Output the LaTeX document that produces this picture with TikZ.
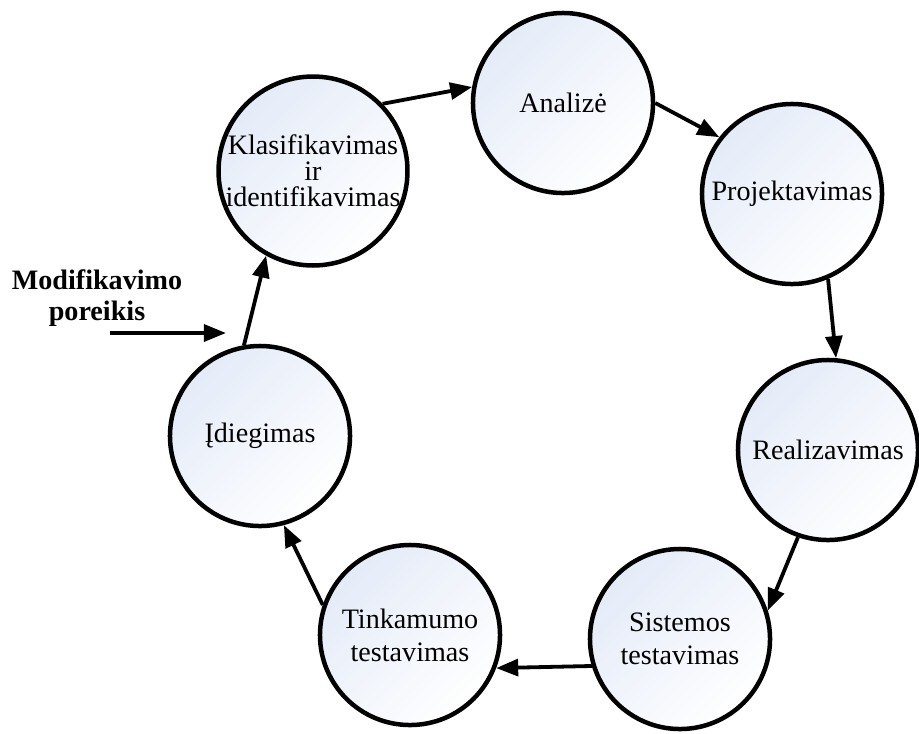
\documentclass[tikz,border=0pt]{standalone}
\usepackage{fontspec}
\setmainfont{Liberation Serif}
\usetikzlibrary{arrows.meta}
\definecolor{stagefill}{RGB}{228,235,248}

\begin{document}
\begin{tikzpicture}[x=0.025cm,y=-0.025cm,
    stage/.style={circle,draw,line width=3.2pt,minimum size=4.5cm,inner sep=0pt,
      top color=stagefill,bottom color=white,shading angle=45,align=center,
      font=\fontsize{20}{23.5}\selectfont},
    flow/.style={line width=2.7pt,-{Triangle[length=0.55cm,width=0.42cm]}}]
    \useasboundingbox (0,0) rectangle (919,733);
    % stages of the cycle
    \node[stage,font=\fontsize{20}{18.5}\selectfont] (klas) at (313,171) {Klasifikavimas\\ir\\identifikavimas};
    \node[stage] (anal) at (563,103) {Analizė};
    \node[stage] (proj) at (792,194) {Projektavimas};
    \node[stage] (real) at (828,450) {Realizavimas};
    \node[stage] (sist) at (680,639) {Sistemos\\testavimas};
    \node[stage] (tink) at (410,635) {Tinkamumo\\testavimas};
    \node[stage] (idieg) at (260,436) {Įdiegimas};
    % arrows between the stages
    \foreach \from/\a/\to/\b in {klas/44/anal/170, anal/0/proj/142, proj/-67/real/85,
        real/-109/sist/18, sist/197/tink/-21, tink/161/idieg/-75, idieg/100/klas/241}{
      \draw[flow] (\from.\a) -- (\to.\b);
    }
    % incoming request
    \node[align=center,font=\fontsize{20}{21.5}\selectfont\bfseries] (need) at (97,298) {Modifikavimo\\poreikis};
    \coordinate (needtail) at (110,333);
    \coordinate (needhead) at (226,333);
    \draw[flow] (needtail) -- (needhead);
\end{tikzpicture}
\end{document}
